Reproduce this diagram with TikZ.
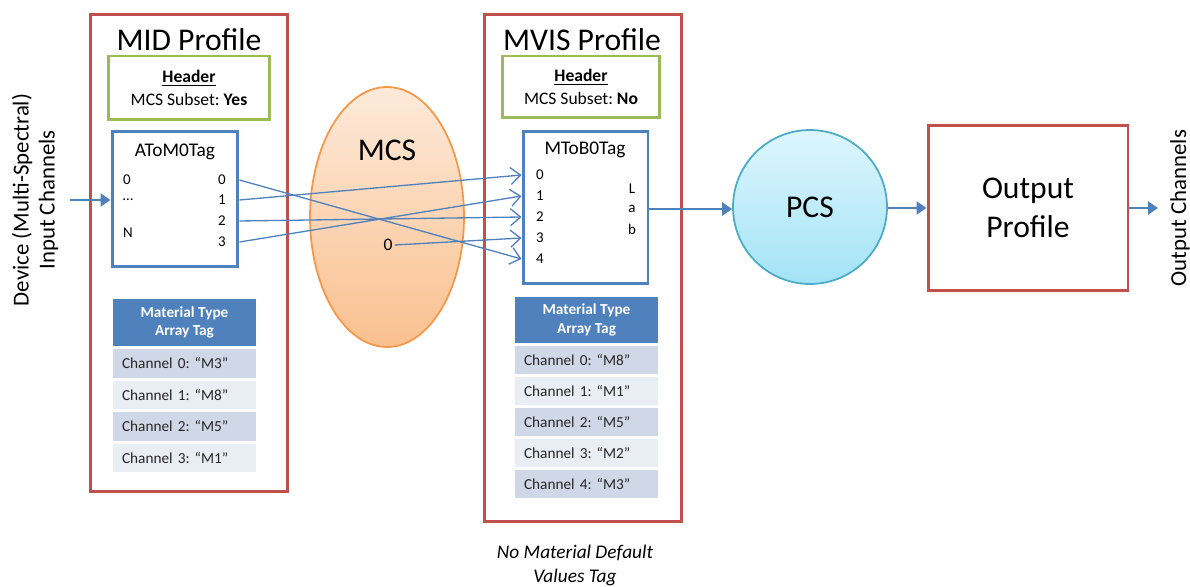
\documentclass[tikz,border=0pt]{standalone}
\usepackage{fontspec}
\setmainfont{Carlito}
\usetikzlibrary{arrows.meta, shapes.geometric}
\definecolor{profred}{HTML}{C0504D}
\definecolor{headgreen}{HTML}{9BBB59}
\definecolor{tagblue}{HTML}{4F81BD}
\definecolor{rowdark}{HTML}{D0D8E8}
\definecolor{rowlight}{HTML}{E9EDF4}
\definecolor{mcsedge}{HTML}{F79646}
\definecolor{mcstop}{HTML}{FDEADA}
\definecolor{mcsbot}{HTML}{FAC08F}
\definecolor{pcsedge}{HTML}{4BACC6}
\definecolor{pcstop}{HTML}{DDF6FD}
\definecolor{pcsbot}{HTML}{A3E3F6}
\frenchspacing

\tikzset{
  profbox/.style={draw=profred, line width=1.7pt, inner sep=0pt},
  headbox/.style={draw=headgreen, line width=1.7pt, align=center, inner sep=0pt,
    font=\fontsize{10}{13}\selectfont},
  tagbox/.style={draw=tagblue, line width=1.7pt, inner sep=0pt},
  big/.style={font=\fontsize{18}{22}\selectfont},
  port/.style={font=\fontsize{8.5}{10}\selectfont, inner sep=1pt},
  tabhead/.style={fill=tagblue, text=white, align=center, minimum width=2.86cm,
    font=\bfseries\fontsize{8.7}{10.5}\selectfont},
  tabrow/.style={minimum width=2.86cm, minimum height=0.58cm, text width=2.5cm,
    align=left, font=\fontsize{8.7}{10}\selectfont, text=black!85},
  link/.style={draw=tagblue, line width=0.75pt, -{Straight Barb[length=2mm, width=3.4mm]}},
  flow/.style={draw=tagblue, line width=1.4pt, -{Triangle[length=2mm, width=2.6mm]}},
  side/.style={rotate=90, align=center, font=\fontsize{13}{14.8}\selectfont}
}

\begin{document}
\begin{tikzpicture}[x=0.02cm, y=-0.02cm]
  \useasboundingbox (0,0) rectangle (1190,587);

  % MID profile
  \node[profbox, minimum width=3.96cm, minimum height=9.56cm] (midprof) at (189,253) {};
  \node[big] (midtitle) at (189,40) {MID Profile};
  \node[headbox, minimum width=3.24cm, minimum height=1.28cm] (midhead) at (189,88)
    {\underline{\textbf{Header}}\\MCS Subset: \textbf{Yes}};
  \node[tagbox, minimum width=2.52cm, minimum height=2.72cm] (atom) at (175,199) {};
  \node[font=\fontsize{11}{13}\selectfont] (atomtitle) at (175,152) {AToM0Tag};
  \node[port] (ai0) at (127,180) {0};
  \node[port] (ai1) at (128,200) {\dots};
  \node[port] (ain) at (128,233) {N};
  \foreach \n/\y in {0/180, 1/200, 2/221, 3/242}
    \node[port] (ao\n) at (222,\y) {\n};

  \node[tabhead, minimum height=0.94cm] (midtab) at (184.5,322.5) {Material Type\\Array Tag};
  \node[tabrow, fill=rowdark]  (midr0) at (184.5,363.5) {Channel 0: “M3”};
  \node[tabrow, fill=rowlight] (midr1) at (184.5,395) {Channel 1: “M8”};
  \node[tabrow, fill=rowdark]  (midr2) at (184.5,426.5) {Channel 2: “M5”};
  \node[tabrow, fill=rowlight] (midr3) at (184.5,458) {Channel 3: “M1”};

  % MCS
  \node[ellipse, draw=mcsedge, line width=1pt, top color=mcstop, bottom color=mcsbot,
    minimum width=3.08cm, minimum height=5.2cm] (mcs) at (387,217) {};
  \node[big] (mcstitle) at (387,150) {MCS};
  \node[font=\fontsize{10}{12}\selectfont, inner sep=1pt] (mzero) at (388,245) {0};

  % MVIS profile
  \node[profbox, minimum width=3.96cm, minimum height=10.16cm] (mvisprof) at (583,268) {};
  \node[big] (mvistitle) at (582,40) {MVIS Profile};
  \node[headbox, minimum width=3.16cm, minimum height=1.24cm] (mvishead) at (581,87)
    {\underline{\textbf{Header}}\\MCS Subset: \textbf{No}};
  \node[tagbox, minimum width=2.5cm, minimum height=3.06cm] (mtob) at (585.5,207.5) {};
  \node[font=\fontsize{11}{13}\selectfont] (mtobtitle) at (585,150) {MToB0Tag};
  \foreach \n/\y in {0/175, 1/196, 2/217, 3/238, 4/259}
    \node[port] (bi\n) at (540,\y) {\n};
  \node[port] (bl) at (632,189) {L};
  \node[port] (ba) at (632,209) {a};
  \node[port] (bb) at (632,229) {b};

  \node[tabhead, minimum height=0.92cm] (mvistab) at (586.5,320) {Material Type\\Array Tag};
  \node[tabrow, fill=rowdark]  (mvisr0) at (586.5,360) {Channel 0: “M8”};
  \node[tabrow, fill=rowlight] (mvisr1) at (586.5,391) {Channel 1: “M1”};
  \node[tabrow, fill=rowdark]  (mvisr2) at (586.5,422) {Channel 2: “M5”};
  \node[tabrow, fill=rowlight] (mvisr3) at (586.5,453) {Channel 3: “M2”};
  \node[tabrow, fill=rowdark]  (mvisr4) at (586.5,484) {Channel 4: “M3”};

  \node[align=center, font=\itshape\fontsize{11}{13.7}\selectfont] (nodefault) at (575,565)
    {No Material Default\\Values Tag};

  % PCS and output
  \node[circle, draw=pcsedge, line width=1pt, top color=pcstop, bottom color=pcsbot,
    minimum size=3.08cm] (pcs) at (810,207) {};
  \node[big] (pcstitle) at (810,207) {PCS};
  \node[profbox, minimum width=4cm, minimum height=3.32cm, align=center, big] (outprof)
    at (1028,208) {Output\\Profile};

  % side labels
  \node[side] (devlabel) at (35,200) {Device (Multi-Spectral)\\Input Channels};
  \node[side] (outlabel) at (1180,208) {Output Channels};
  \coordinate (devin) at (70,200);
  \coordinate (outend) at (1158,208);

  % connectors
  \draw[flow] (devin) -- (atom.west |- devin);
  \draw[link] (atom.east |- ao0) -- (mtob.west |- bi4);
  \draw[link] (atom.east |- ao1) -- (mtob.west |- bi0);
  \draw[link] (atom.east |- ao2) -- (mtob.west |- bi2);
  \draw[link] (atom.east |- ao3) -- (mtob.west |- bi1);
  \draw[link] (mzero.east) -- (mtob.west |- bi3);
  \draw[flow] (mtob.east |- ba) -- (pcs.west |- ba);
  \draw[flow] (pcs.east |- outprof) -- (outprof.west);
  \draw[flow] (outprof.east) -- (outend);
\end{tikzpicture}
\end{document}
